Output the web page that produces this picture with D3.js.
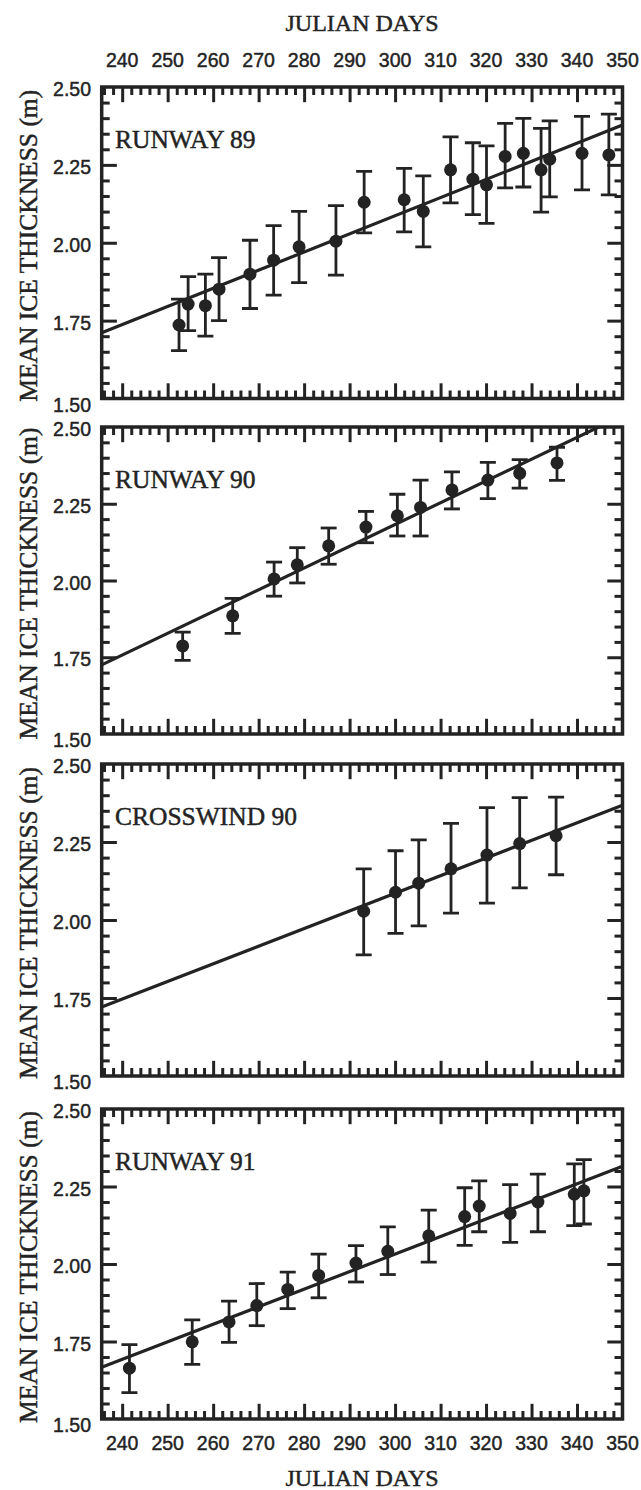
<!DOCTYPE html>
<html>
<head>
<meta charset="utf-8">
<script src="https://cdn.jsdelivr.net/npm/d3@7"></script>
<style>
  body { margin: 0; background: #fff; }
  svg { display: block; }
</style>
</head>
<body>
<div id="chart"></div>
<script>
// julian day range shown on every panel
var dayDomain = [235.5, 350];
var dayTicks = d3.range(240, 351, 10);
var thickTicks = [1.50, 1.75, 2.00, 2.25, 2.50];

var panelNames = ["RUNWAY 89", "RUNWAY 90", "CROSSWIND 90", "RUNWAY 91"];

// runway 89
var r89Day  = [252.5, 254.5, 258.3, 261.3, 268.1, 273.3, 278.9, 287.0, 293.2, 302.0, 306.2, 312.2, 317.1, 320.1, 324.2, 328.2, 332.1, 334.0, 341.1, 347.0];
var r89Mean = [1.736, 1.803, 1.798, 1.851, 1.899, 1.944, 1.987, 2.005, 2.130, 2.138, 2.101, 2.234, 2.204, 2.186, 2.277, 2.287, 2.234, 2.268, 2.287, 2.282];
var r89Hi   = [1.819, 1.891, 1.899, 1.952, 2.008, 2.055, 2.101, 2.119, 2.229, 2.239, 2.215, 2.340, 2.321, 2.311, 2.383, 2.399, 2.367, 2.391, 2.406, 2.413];
var r89Lo   = [1.654, 1.718, 1.700, 1.750, 1.789, 1.832, 1.872, 1.896, 2.032, 2.035, 1.987, 2.128, 2.090, 2.062, 2.176, 2.179, 2.098, 2.147, 2.170, 2.154];
var r89Fit  = [1.711, 2.378];

// runway 90
var r90Day  = [253.3, 264.3, 273.4, 278.5, 285.4, 293.6, 300.5, 305.6, 312.5, 320.4, 327.4, 335.6];
var r90Mean = [1.787, 1.885, 2.005, 2.051, 2.113, 2.174, 2.211, 2.238, 2.295, 2.327, 2.349, 2.383];
var r90Hi   = [1.832, 1.942, 2.060, 2.107, 2.171, 2.225, 2.281, 2.327, 2.354, 2.385, 2.394, 2.434];
var r90Lo   = [1.740, 1.828, 1.949, 1.992, 2.053, 2.123, 2.145, 2.145, 2.233, 2.267, 2.301, 2.326];
var r90Fit  = [1.725, 2.537];

// crosswind 90
var c90Day  = [293.1, 300.1, 305.2, 312.3, 320.2, 327.4, 335.4];
var c90Mean = [2.028, 2.089, 2.118, 2.164, 2.208, 2.245, 2.270];
var c90Hi   = [2.164, 2.222, 2.257, 2.310, 2.360, 2.392, 2.394];
var c90Lo   = [1.888, 1.957, 1.981, 2.022, 2.054, 2.103, 2.145];
var c90Fit  = [1.721, 2.368];

// runway 91
var r91Day  = [241.6, 255.4, 263.5, 269.6, 276.4, 283.2, 291.4, 298.4, 307.4, 315.3, 318.5, 325.3, 331.4, 339.4, 341.5];
var r91Mean = [1.664, 1.749, 1.813, 1.866, 1.918, 1.963, 2.003, 2.041, 2.091, 2.153, 2.187, 2.163, 2.200, 2.225, 2.236];
var r91Hi   = [1.740, 1.820, 1.880, 1.937, 1.974, 2.032, 2.059, 2.120, 2.174, 2.246, 2.268, 2.256, 2.290, 2.323, 2.337];
var r91Lo   = [1.585, 1.676, 1.747, 1.801, 1.856, 1.891, 1.942, 1.966, 2.006, 2.060, 2.104, 2.070, 2.104, 2.124, 2.129];
var r91Fit  = [1.667, 2.315];

function rows(day, mean, hi, lo){
    return day.map((d,i)=>({day:d, mean:mean[i], hi:hi[i], lo:lo[i]}));
}

var panels = [
    {name: panelNames[0], pts: rows(r89Day, r89Mean, r89Hi, r89Lo), fit: r89Fit},
    {name: panelNames[1], pts: rows(r90Day, r90Mean, r90Hi, r90Lo), fit: r90Fit},
    {name: panelNames[2], pts: rows(c90Day, c90Mean, c90Hi, c90Lo), fit: c90Fit},
    {name: panelNames[3], pts: rows(r91Day, r91Mean, r91Hi, r91Lo), fit: r91Fit}
];

var W = 641, H = 1490;
var left = 101.7, right = 622.5;
var tops = [87, 427, 764, 1109],
    bottoms = [398.5, 734, 1076, 1419];
var ink = "#232323";
var serif = "'Liberation Serif', 'Times New Roman', serif";
var sans = "'Liberation Sans', Arial, sans-serif";

var svg = d3.select("#chart").append("svg")
    .attr("width", W).attr("height", H);

var x = d3.scaleLinear().domain(dayDomain).range([left, right]);

function inkText(sel, family, size){
    sel.style("font-family", family).style("font-size", size)
        .attr("fill", ink).attr("stroke", ink).attr("stroke-width", 0.45);
    return sel;
}

// axis titles top and bottom
inkText(svg.append("text").attr("x", (left+right)/2).attr("y", 31)
    .attr("text-anchor", "middle"), serif, "24px").text("JULIAN DAYS");
inkText(svg.append("text").attr("x", (left+right)/2).attr("y", 1486)
    .attr("text-anchor", "middle"), serif, "24px").text("JULIAN DAYS");

// day labels above first panel and below last
[tops[0]-20, bottoms[3]+31].forEach(yy=>{
    inkText(svg.append("g").selectAll("text").data(dayTicks).enter().append("text")
        .attr("x", d=>x(d)).attr("y", yy)
        .attr("text-anchor", "middle"), sans, "19.5px").text(d=>d);
});

panels.forEach((p, k)=>{
    var y = d3.scaleLinear().domain([1.5, 2.5]).range([bottoms[k], tops[k]]);
    var g = svg.append("g");

    g.append("clipPath").attr("id", "clip"+k)
        .append("rect").attr("x", left).attr("y", tops[k])
        .attr("width", right-left).attr("height", bottoms[k]-tops[k]);

    // axes drawn inward on all four sides
    var minorX = d3.range(236, 350, 2);
    var minorY = d3.range(31, 50).map(v=>v/20);
    var axBottom = d3.axisTop(x).tickValues(minorX).tickFormat("").tickSize(8).tickSizeOuter(0);
    var axTop = d3.axisBottom(x).tickValues(minorX).tickFormat("").tickSize(8).tickSizeOuter(0);
    var axLeft = d3.axisRight(y).tickValues(minorY).tickFormat("").tickSize(8).tickSizeOuter(0);
    var axRight = d3.axisLeft(y).tickValues(minorY).tickFormat("").tickSize(8).tickSizeOuter(0);

    [[axBottom, "translate(0,"+bottoms[k]+")"], [axTop, "translate(0,"+tops[k]+")"],
     [axLeft, "translate("+left+",0)"], [axRight, "translate("+right+",0)"]].forEach(a=>{
        var ag = g.append("g").attr("transform", a[1]).call(a[0]);
        ag.select(".domain").remove();
        ag.selectAll(".tick line").attr("stroke", ink).attr("stroke-width", 3);
        ag.selectAll(".tick").each(function(d){
            var major = (d < 3 && Math.abs(d*4 - Math.round(d*4)) < 1e-6) || (d > 3 && d % 10 == 0);
            if (major){
                var ln = d3.select(this).select("line");
                ["x2","y2"].forEach(att=>{
                    var v = +ln.attr(att);
                    if (v) ln.attr(att, v*1.9);
                });
            }
        });
    });

    g.append("rect").attr("x", left).attr("y", tops[k])
        .attr("width", right-left).attr("height", bottoms[k]-tops[k])
        .attr("fill", "none").attr("stroke", ink).attr("stroke-width", 3.5);

    // thickness labels
    inkText(g.append("g").selectAll("text").data(thickTicks).enter().append("text")
        .attr("x", 91).attr("y", d=>y(d) + (d==1.5 ? 13 : 9))
        .attr("text-anchor", "end"), sans, "19.5px").text(d=>d.toFixed(2));

    // y title
    inkText(g.append("text")
        .attr("transform", "translate(37,"+((tops[k]+bottoms[k])/2+3)+") rotate(-90)")
        .attr("text-anchor", "middle"), serif, "25.5px").text("MEAN ICE THICKNESS (m)");

    inkText(g.append("text").attr("x", 115).attr("y", tops[k]+61), serif, "25.5px").text(p.name);

    var inner = g.append("g").attr("clip-path", "url(#clip"+k+")");

    inner.append("line")
        .attr("x1", x(dayDomain[0])).attr("y1", y(p.fit[0]))
        .attr("x2", x(dayDomain[1])).attr("y2", y(p.fit[1]))
        .attr("stroke", ink).attr("stroke-width", 3.2);

    var bars = inner.append("g").selectAll("g").data(p.pts).enter().append("g");
    bars.append("line")
        .attr("x1", d=>x(d.day)).attr("x2", d=>x(d.day))
        .attr("y1", d=>y(d.hi)).attr("y2", d=>y(d.lo))
        .attr("stroke", ink).attr("stroke-width", 2.8);
    ["hi","lo"].forEach(key=>{
        bars.append("line")
            .attr("x1", d=>x(d.day)-8).attr("x2", d=>x(d.day)+8)
            .attr("y1", d=>y(d[key])).attr("y2", d=>y(d[key]))
            .attr("stroke", ink).attr("stroke-width", 2.8);
    });
    bars.append("circle")
        .attr("cx", d=>x(d.day)).attr("cy", d=>y(d.mean))
        .attr("r", 6.5).attr("fill", ink);
});
</script>
</body>
</html>
